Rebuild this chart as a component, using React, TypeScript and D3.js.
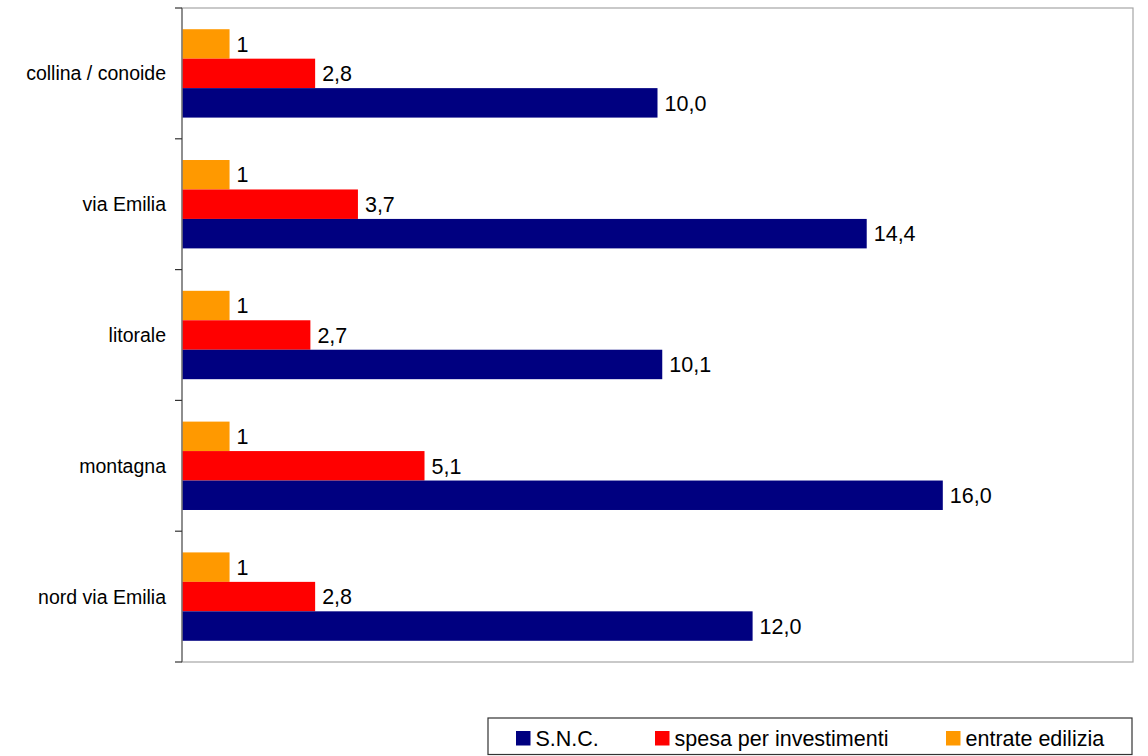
import React from "react";
import * as d3 from "d3";

const categories = ["collina / conoide", "via Emilia", "litorale", "montagna", "nord via Emilia"];
const seriesNames = ["entrate edilizia", "spesa per investimenti", "S.N.C."];
const entrate = [1, 1, 1, 1, 1];
const spesa = [2.8, 3.7, 2.7, 5.1, 2.8];
const snc = [10.0, 14.4, 10.1, 16.0, 12.0];
const labelEntrate = ["1", "1", "1", "1", "1"];
const labelSpesa = ["2,8", "3,7", "2,7", "5,1", "2,8"];
const labelSnc = ["10,0", "14,4", "10,1", "16,0", "12,0"];
const colors = ["#FF9900", "#FF0000", "#000080"];
const legendOrder = [2, 1, 0];

export default function App() {
  const W = 1148, H = 756;
  const left = 182, right = 1133, top = 8, bottom = 662;
  const x = d3.scaleLinear().domain([0, 20]).range([left, right]);
  const y = d3.scaleBand<string>().domain(categories).range([top, bottom]).paddingInner(0).paddingOuter(0);
  const inner = d3.scaleBand<string>().domain(seriesNames).range([0, y.bandwidth()]).paddingInner(0).paddingOuter(0.72);
  const values = [entrate, spesa, snc];
  const labels = [labelEntrate, labelSpesa, labelSnc];
  const font = "'Liberation Sans', Arial, sans-serif";
  const ticks = d3.range(categories.length + 1).map((i) => top + i * y.step());

  const legendX = [516, 655, 946];
  return (
    <svg width={W} height={H} style={{ position: "absolute", left: 0, top: 0 }}>
      <rect x={0} y={0} width={W} height={H} fill="#fff" />
      <rect x={left} y={top} width={right - left} height={bottom - top} fill="none" stroke="#a6a6a6" strokeWidth={1.2} />
      {categories.map((c, ci) =>
        seriesNames.map((s, si) => {
          const v = values[si][ci];
          const by = (y(c) as number) + (inner(s) as number);
          const bh = inner.bandwidth();
          return (
            <g key={c + s}>
              <rect x={x(0)} y={by} width={x(v) - x(0)} height={bh} fill={colors[si]} />
              <text x={x(v) + 7} y={by + bh / 2} dy="0.36em" fontFamily={font} fontSize={21.5} fill="#000">
                {labels[si][ci]}
              </text>
            </g>
          );
        })
      )}
      <line x1={left} x2={left} y1={top} y2={bottom} stroke="#7a7a7a" strokeWidth={1.5} />
      {ticks.map((t, i) => (
        <line key={i} x1={left - 7} x2={left} y1={t} y2={t} stroke="#333" strokeWidth={1.2} />
      ))}
      {categories.map((c) => (
        <text key={c} x={166} y={(y(c) as number) + y.bandwidth() / 2} dy="0.36em" textAnchor="end" fontFamily={font} fontSize={19.5} fill="#000">
          {c}
        </text>
      ))}
      <rect x={488} y={718} width={1132 - 488} height={36.5} fill="#fff" stroke="#333" strokeWidth={1.2} />
      {legendOrder.map((si, i) => (
        <g key={si}>
          <rect x={legendX[i]} y={731} width={14.5} height={14.5} fill={colors[si]} />
          <text x={legendX[i] + 19.5} y={738.5} dy="0.36em" fontFamily={font} fontSize={21.5} fill="#000">
            {seriesNames[si]}
          </text>
        </g>
      ))}
    </svg>
  );
}
